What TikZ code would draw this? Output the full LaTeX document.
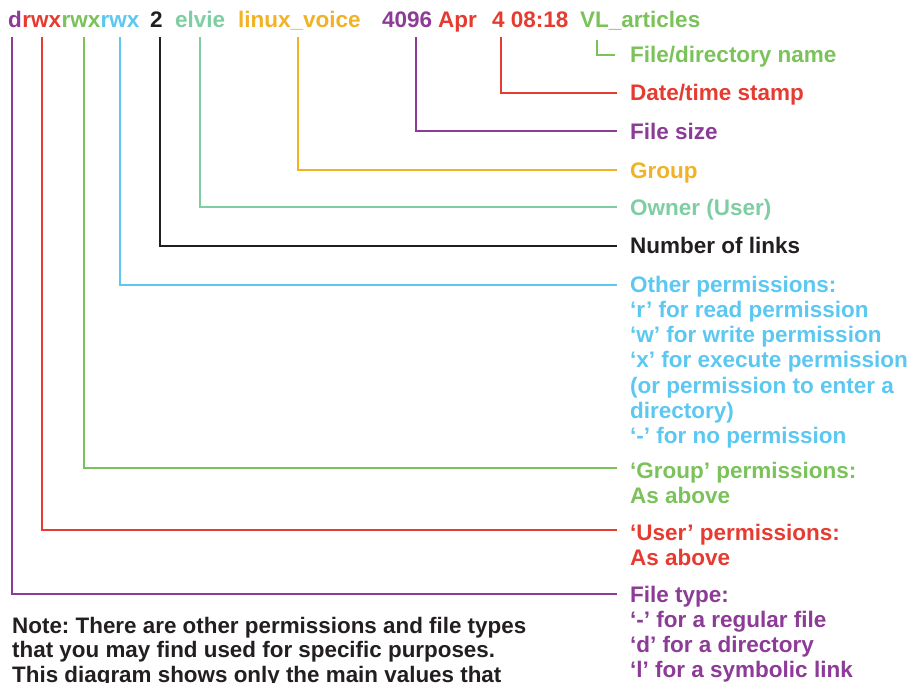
\documentclass[tikz,border=0pt]{standalone}
\usepackage{fontspec}
\setmainfont{Liberation Sans}
\newfontfamily\notefont{Liberation Sans Bold}
\definecolor{cPurple}{HTML}{8C3C96}
\definecolor{cRed}{HTML}{E53B30}
\definecolor{cGreen}{HTML}{7BC25B}
\definecolor{cBlue}{HTML}{5CC8F2}
\definecolor{cTeal}{HTML}{7ECDA3}
\definecolor{cYellow}{HTML}{F1B325}
\definecolor{cBlack}{HTML}{231F20}
\frenchspacing
\begin{document}
\begin{tikzpicture}[x=1pt,y=-1pt,
  word/.style={anchor=base west, inner sep=0pt, font=\fontsize{22.5}{25.3}\selectfont\bfseries},
  lbl/.style={anchor=base west, inner sep=0pt, align=left, font=\fontsize{22.5}{25.3}\selectfont\bfseries},
  conn/.style={line width=2.4pt}]
\useasboundingbox (0,0) rectangle (919,683);
\clip (0,0) rectangle (919,683);

% the listing line
\node[word, text=cPurple] (wType)  at (8,27)   {d};
\node[word, text=cRed]    (wUser)  at (wType.base east) {rwx};
\node[word, text=cGreen]  (wGroup) at (wUser.base east) {rwx};
\node[word, text=cBlue]   (wOther) at (wGroup.base east) {rwx};
\node[word, text=cBlack]  (wLinks) at (150,27) {2};
\node[word, text=cTeal]   (wOwner) at (175,27) {elvie};
\node[word, text=cYellow] (wGrp)   at (238,27) {linux\_voice};
\node[word, text=cPurple] (wSize)  at (382,27) {4096};
\node[word, text=cRed]    (wMon)   at (438,27) {Apr};
\node[word, text=cRed]    (wDate)  at (492,27) {4 08:18};
\node[word, text=cGreen]  (wName)  at (580,27) {VL\_articles};

% where each bracket leaves the listing
\coordinate (sType)  at (12,37);
\coordinate (sUser)  at (42,37);
\coordinate (sGroup) at (84,37);
\coordinate (sOther) at (120,37);
\coordinate (sLinks) at (160,37);
\coordinate (sOwner) at (200,37);
\coordinate (sGrp)   at (298,37);
\coordinate (sSize)  at (416,37);
\coordinate (sDate)  at (501,37);
\coordinate (sName)  at (597,40);

% explanations (a multi-line node sits on the baseline of its last line)
\node[lbl, text=cGreen]  (lName)  at (630,62)  {File/directory name};
\node[lbl, text=cRed]    (lDate)  at (630,100) {Date/time stamp};
\node[lbl, text=cPurple] (lSize)  at (630,139) {File size};
\node[lbl, text=cYellow] (lGrp)   at (630,178) {Group};
\node[lbl, text=cTeal]   (lOwner) at (630,215) {Owner (User)};
\node[lbl, text=cBlack]  (lLinks) at (630,253) {Number of links};
\node[lbl, text=cBlue]   (lOther) at (630,443.8) {Other permissions:\\‘r’ for read permission\\‘w’ for write permission\\‘x’ for execute permission\\(or permission to enter a\\directory)\\‘-’ for no permission};
\node[lbl, text=cGreen]  (lGroup) at (630,503.3) {‘Group’ permissions:\\As above};
\node[lbl, text=cRed]    (lUser)  at (630,565.3) {‘User’ permissions:\\As above};
\node[lbl, text=cPurple] (lType)  at (630,677.9) {File type:\\‘-’ for a regular file\\‘d’ for a directory\\‘l’ for a symbolic link};

% bracket ends
\coordinate (eName)  at (615,55);
\coordinate (eDate)  at (617,93);
\coordinate (eSize)  at (617,131);
\coordinate (eGrp)   at (617,170);
\coordinate (eOwner) at (617,207);
\coordinate (eLinks) at (617,246);
\coordinate (eOther) at (617,285);
\coordinate (eGroup) at (617,468);
\coordinate (eUser)  at (617,530);
\coordinate (eType)  at (617,594);

\draw[conn, cGreen]  (sName)  |- (eName);
\draw[conn, cRed]    (sDate)  |- (eDate);
\draw[conn, cPurple] (sSize)  |- (eSize);
\draw[conn, cYellow] (sGrp)   |- (eGrp);
\draw[conn, cTeal]   (sOwner) |- (eOwner);
\draw[conn, cBlack]  (sLinks) |- (eLinks);
\draw[conn, cBlue]   (sOther) |- (eOther);
\draw[conn, cGreen]  (sGroup) |- (eGroup);
\draw[conn, cRed]    (sUser)  |- (eUser);
\draw[conn, cPurple] (sType)  |- (eType);

% footnote
\node[anchor=base west, inner sep=0pt, align=left, text=cBlack,
      font=\notefont\fontsize{22.4}{24.8}\selectfont] (note) at (12,682.6)
  {Note: There are other permissions and file types\\that you may find used for specific purposes.\\This diagram shows only the main values that};
\end{tikzpicture}
\end{document}
